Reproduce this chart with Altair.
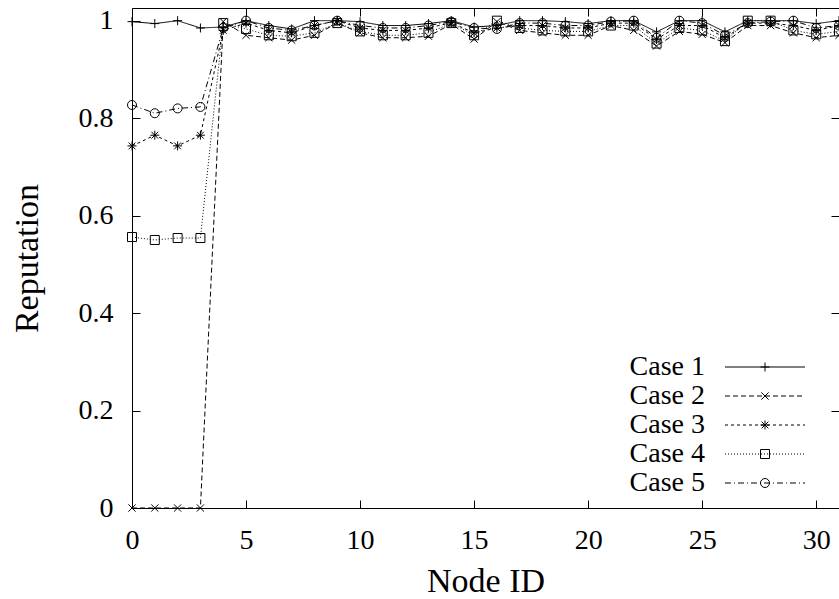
import altair as alt
import pandas as pd

nodes = list(range(32))
cases = ["Case 1", "Case 2", "Case 3", "Case 4", "Case 5"]

case1 = [0.998, 0.994, 1.0, 0.985, 0.987, 1.0, 0.99, 0.983, 1.0, 1.0, 0.998, 0.99, 0.99, 0.994, 1.0, 0.987,
         0.99, 1.0, 1.0, 0.998, 0.994, 1.0, 1.0, 0.977, 1.0, 1.0, 0.977, 1.0, 1.0, 1.0, 0.994, 1.0]
case2 = [0.0, 0.0, 0.0, 0.0, 0.998, 0.97, 0.965, 0.96, 0.97, 0.995, 0.975, 0.965, 0.965, 0.968, 0.993, 0.962,
         0.998, 0.98, 0.975, 0.97, 0.97, 0.99, 0.98, 0.948, 0.978, 0.972, 0.955, 0.99, 0.99, 0.975, 0.965, 0.97]
case3 = [0.743, 0.765, 0.743, 0.765, 0.98, 0.995, 0.98, 0.975, 0.99, 1.0, 0.985, 0.98, 0.98, 0.985, 0.996, 0.975,
         0.985, 0.99, 0.99, 0.985, 0.985, 0.995, 0.995, 0.962, 0.99, 0.99, 0.965, 0.995, 0.995, 0.99, 0.98, 0.99]
case4 = [0.556, 0.55, 0.554, 0.554, 0.995, 0.983, 0.97, 0.968, 0.975, 0.995, 0.978, 0.97, 0.97, 0.975, 0.995, 0.97,
         1.0, 0.985, 0.98, 0.978, 0.978, 0.99, 0.99, 0.953, 0.985, 0.98, 0.958, 1.0, 1.0, 0.98, 0.972, 0.978]
case5 = [0.827, 0.81, 0.82, 0.823, 0.985, 1.0, 0.985, 0.98, 0.99, 1.0, 0.99, 0.985, 0.985, 0.99, 0.998, 0.985,
         0.983, 0.995, 0.995, 0.99, 0.99, 0.998, 1.0, 0.965, 1.0, 0.995, 0.97, 0.995, 0.998, 1.0, 0.985, 0.99]

x_ticks = [0, 5, 10, 15, 20, 25, 30]
y_ticks = [0, 0.2, 0.4, 0.6, 0.8, 1]

rows = []
for name, vals in zip(cases, [case1, case2, case3, case4, case5]):
    for n, v in zip(nodes, vals):
        rows.append({"node": n, "rep": v, "case": name, "case_m": name, "case_l": name})
df = pd.DataFrame(rows)

FONT = "Liberation Serif"
TICK_FS = 28
LEG_FS = 28
TITLE_FS = 34

xs = alt.Scale(domain=[0, 31], nice=False, zero=False)
ys = alt.Scale(domain=[0, 1.026], nice=False)

dash_range = [[1, 0], [5, 3], [3, 3], [1, 2], [6, 3, 1, 3]]
shape_range = [
    "M-1,0L1,0M0,-1L0,1",
    "M-0.8,-0.8L0.8,0.8M-0.8,0.8L0.8,-0.8",
    "M-1,0L1,0M0,-1L0,1M-0.75,-0.75L0.75,0.75M-0.75,0.75L0.75,-0.75",
    "square",
    "circle",
]
black_range = ["black"] * 5

common_axis = dict(grid=False, domain=False, tickSize=8, tickColor="black", tickWidth=1,
                   offset=-8, labelColor="black", labelFont=FONT, labelFontSize=TICK_FS,
                   titleFont=FONT, titleFontSize=TITLE_FS, titleFontWeight="normal",
                   titleColor="black")

LEG_X = 492
LEG_Y = 346

lines = alt.Chart(df).mark_line(strokeWidth=1).encode(
    x=alt.X("node:Q", scale=xs,
            axis=alt.Axis(orient="bottom", values=x_ticks, labelFlush=False, labelPadding=18,
                          title="Node ID", titlePadding=10, **common_axis)),
    y=alt.Y("rep:Q", scale=ys,
            axis=alt.Axis(orient="left", values=y_ticks, format="~g", labelPadding=19,
                          title="Reputation", titlePadding=34, **common_axis)),
    strokeDash=alt.StrokeDash(
        "case:N", scale=alt.Scale(domain=cases, range=dash_range),
        legend=alt.Legend(orient="none", legendX=LEG_X, legendY=LEG_Y, title=None,
                          symbolType="stroke", symbolSize=6400, symbolStrokeWidth=1,
                          symbolStrokeColor="black", clipHeight=26, rowPadding=3, padding=0,
                          labelFontSize=1, labelOpacity=0, symbolOffset=100.5)),
    color=alt.Color(
        "case_l:N", scale=alt.Scale(range=black_range),
        legend=alt.Legend(orient="none", legendX=545, legendY=LEG_Y, title=None,
                          symbolSize=1, symbolStrokeWidth=0, symbolOpacity=0,
                          clipHeight=26, rowPadding=1, padding=0,
                          labelFont=FONT, labelFontSize=LEG_FS, labelColor="black",
                          labelLimit=300, labelAlign="right", labelOffset=0)),
)

points = alt.Chart(df).mark_point(filled=False, color="black", strokeWidth=1, size=81, opacity=1).encode(
    x=alt.X("node:Q", scale=xs,
            axis=alt.Axis(orient="top", values=x_ticks, labels=False, title=None, **common_axis)),
    y=alt.Y("rep:Q", scale=ys,
            axis=alt.Axis(orient="right", values=y_ticks, labels=False, title=None, **common_axis)),
    shape=alt.Shape(
        "case_m:N", scale=alt.Scale(range=shape_range),
        legend=alt.Legend(orient="none", legendX=LEG_X, legendY=LEG_Y, title=None,
                          symbolSize=81, symbolStrokeWidth=1, symbolStrokeColor="black",
                          symbolFillColor="transparent", clipHeight=26, rowPadding=3, padding=0,
                          labelFontSize=1, labelOpacity=0, symbolOffset=136)),
)

chart = alt.layer(lines, points).resolve_axis(x="independent", y="independent").properties(
    width=707, height=500,
    padding={"left": 132, "top": 8, "right": 0, "bottom": 91},
    autosize=alt.AutoSizeParams(type="none"),
    background="white",
).configure_view(stroke="black", strokeWidth=1)

chart.save("out.html", embed_options={"renderer": "svg", "actions": False})
